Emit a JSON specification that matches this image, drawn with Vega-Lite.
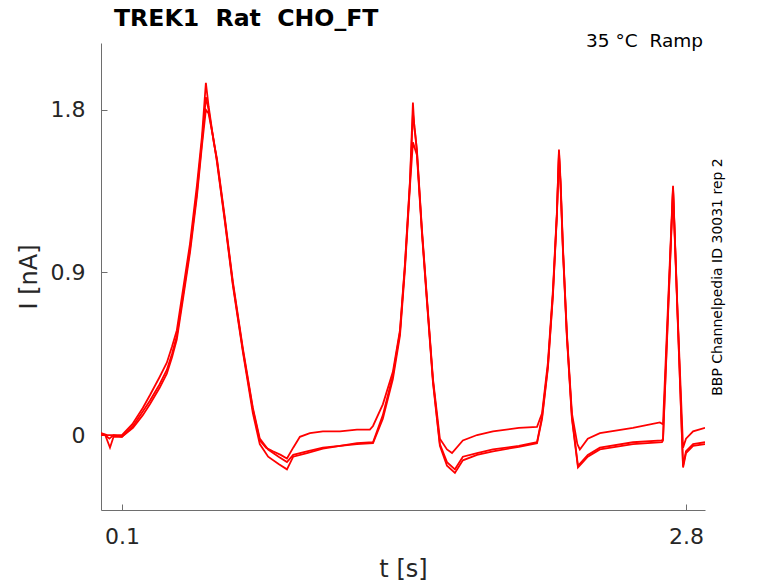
{
  "$schema": "https://vega.github.io/schema/vega-lite/v6.json",
  "width": 604,
  "height": 467,
  "autosize": {"type": "none"},
  "padding": {"left": 101, "top": 43, "right": 73, "bottom": 73},
  "title": {
    "text": "TREK1\u00a0\u00a0Rat\u00a0\u00a0CHO_FT",
    "anchor": "start",
    "frame": "group",
    "dx": 13,
    "offset": -18,
    "baseline": "alphabetic",
    "font": "DejaVu Sans",
    "fontSize": 23.6,
    "fontWeight": "bold",
    "color": "#000000"
  },
  "datasets": {
    "traces": [
      {"trace": "1", "t": 0.000, "I": 0.01}, {"trace": "1", "t": 0.020, "I": 0.00}, {"trace": "1", "t": 0.040, "I": -0.02},
      {"trace": "1", "t": 0.060, "I": 0.00}, {"trace": "1", "t": 0.100, "I": 0.00}, {"trace": "1", "t": 0.150, "I": 0.06},
      {"trace": "1", "t": 0.200, "I": 0.15}, {"trace": "1", "t": 0.234, "I": 0.22}, {"trace": "1", "t": 0.280, "I": 0.32},
      {"trace": "1", "t": 0.315, "I": 0.40}, {"trace": "1", "t": 0.340, "I": 0.49}, {"trace": "1", "t": 0.363, "I": 0.58},
      {"trace": "1", "t": 0.392, "I": 0.80}, {"trace": "1", "t": 0.426, "I": 1.06}, {"trace": "1", "t": 0.459, "I": 1.38},
      {"trace": "1", "t": 0.483, "I": 1.65}, {"trace": "1", "t": 0.502, "I": 1.95}, {"trace": "1", "t": 0.515, "I": 1.82},
      {"trace": "1", "t": 0.540, "I": 1.62}, {"trace": "1", "t": 0.555, "I": 1.52}, {"trace": "1", "t": 0.593, "I": 1.19},
      {"trace": "1", "t": 0.631, "I": 0.84}, {"trace": "1", "t": 0.679, "I": 0.47}, {"trace": "1", "t": 0.727, "I": 0.14},
      {"trace": "1", "t": 0.760, "I": -0.03}, {"trace": "1", "t": 0.790, "I": -0.07}, {"trace": "1", "t": 0.823, "I": -0.09},
      {"trace": "1", "t": 0.860, "I": -0.11}, {"trace": "1", "t": 0.890, "I": -0.13}, {"trace": "1", "t": 0.920, "I": -0.07},
      {"trace": "1", "t": 0.952, "I": -0.01}, {"trace": "1", "t": 1.000, "I": 0.01}, {"trace": "1", "t": 1.062, "I": 0.02},
      {"trace": "1", "t": 1.144, "I": 0.02}, {"trace": "1", "t": 1.225, "I": 0.03}, {"trace": "1", "t": 1.287, "I": 0.03},
      {"trace": "1", "t": 1.302, "I": 0.05}, {"trace": "1", "t": 1.349, "I": 0.17}, {"trace": "1", "t": 1.397, "I": 0.35},
      {"trace": "1", "t": 1.431, "I": 0.58}, {"trace": "1", "t": 1.455, "I": 0.95}, {"trace": "1", "t": 1.479, "I": 1.41},
      {"trace": "1", "t": 1.493, "I": 1.84}, {"trace": "1", "t": 1.500, "I": 1.70}, {"trace": "1", "t": 1.512, "I": 1.58},
      {"trace": "1", "t": 1.536, "I": 1.14}, {"trace": "1", "t": 1.560, "I": 0.76}, {"trace": "1", "t": 1.589, "I": 0.31},
      {"trace": "1", "t": 1.622, "I": -0.02}, {"trace": "1", "t": 1.656, "I": -0.08}, {"trace": "1", "t": 1.680, "I": -0.10},
      {"trace": "1", "t": 1.732, "I": -0.03}, {"trace": "1", "t": 1.800, "I": 0.00}, {"trace": "1", "t": 1.876, "I": 0.02},
      {"trace": "1", "t": 2.000, "I": 0.04}, {"trace": "1", "t": 2.087, "I": 0.045}, {"trace": "1", "t": 2.111, "I": 0.12},
      {"trace": "1", "t": 2.139, "I": 0.40}, {"trace": "1", "t": 2.163, "I": 0.80}, {"trace": "1", "t": 2.182, "I": 1.23},
      {"trace": "1", "t": 2.192, "I": 1.58}, {"trace": "1", "t": 2.200, "I": 1.40}, {"trace": "1", "t": 2.211, "I": 1.04},
      {"trace": "1", "t": 2.230, "I": 0.56}, {"trace": "1", "t": 2.254, "I": 0.12}, {"trace": "1", "t": 2.280, "I": -0.05},
      {"trace": "1", "t": 2.292, "I": -0.08}, {"trace": "1", "t": 2.330, "I": -0.02}, {"trace": "1", "t": 2.388, "I": 0.01},
      {"trace": "1", "t": 2.546, "I": 0.04}, {"trace": "1", "t": 2.675, "I": 0.07}, {"trace": "1", "t": 2.690, "I": 0.06},
      {"trace": "1", "t": 2.714, "I": 0.72}, {"trace": "1", "t": 2.738, "I": 1.38}, {"trace": "1", "t": 2.760, "I": 0.67},
      {"trace": "1", "t": 2.786, "I": -0.07}, {"trace": "1", "t": 2.800, "I": -0.02}, {"trace": "1", "t": 2.834, "I": 0.02},
      {"trace": "1", "t": 2.891, "I": 0.04},

      {"trace": "2", "t": 0.000, "I": 0.00}, {"trace": "2", "t": 0.020, "I": 0.00}, {"trace": "2", "t": 0.043, "I": -0.07},
      {"trace": "2", "t": 0.060, "I": -0.01}, {"trace": "2", "t": 0.100, "I": -0.01}, {"trace": "2", "t": 0.153, "I": 0.05},
      {"trace": "2", "t": 0.200, "I": 0.13}, {"trace": "2", "t": 0.234, "I": 0.19}, {"trace": "2", "t": 0.280, "I": 0.28},
      {"trace": "2", "t": 0.315, "I": 0.36}, {"trace": "2", "t": 0.340, "I": 0.45}, {"trace": "2", "t": 0.363, "I": 0.55},
      {"trace": "2", "t": 0.392, "I": 0.77}, {"trace": "2", "t": 0.426, "I": 1.03}, {"trace": "2", "t": 0.459, "I": 1.34},
      {"trace": "2", "t": 0.483, "I": 1.62}, {"trace": "2", "t": 0.502, "I": 1.87}, {"trace": "2", "t": 0.515, "I": 1.80},
      {"trace": "2", "t": 0.540, "I": 1.62}, {"trace": "2", "t": 0.555, "I": 1.53}, {"trace": "2", "t": 0.593, "I": 1.20},
      {"trace": "2", "t": 0.631, "I": 0.85}, {"trace": "2", "t": 0.679, "I": 0.48}, {"trace": "2", "t": 0.727, "I": 0.15},
      {"trace": "2", "t": 0.760, "I": -0.02}, {"trace": "2", "t": 0.800, "I": -0.08}, {"trace": "2", "t": 0.850, "I": -0.12},
      {"trace": "2", "t": 0.890, "I": -0.15}, {"trace": "2", "t": 0.920, "I": -0.11}, {"trace": "2", "t": 0.986, "I": -0.09},
      {"trace": "2", "t": 1.062, "I": -0.07}, {"trace": "2", "t": 1.144, "I": -0.06}, {"trace": "2", "t": 1.225, "I": -0.045},
      {"trace": "2", "t": 1.302, "I": -0.04}, {"trace": "2", "t": 1.349, "I": 0.11}, {"trace": "2", "t": 1.397, "I": 0.33},
      {"trace": "2", "t": 1.431, "I": 0.57}, {"trace": "2", "t": 1.455, "I": 0.94}, {"trace": "2", "t": 1.479, "I": 1.40},
      {"trace": "2", "t": 1.493, "I": 1.78}, {"trace": "2", "t": 1.505, "I": 1.66}, {"trace": "2", "t": 1.512, "I": 1.57},
      {"trace": "2", "t": 1.536, "I": 1.13}, {"trace": "2", "t": 1.560, "I": 0.75}, {"trace": "2", "t": 1.589, "I": 0.30},
      {"trace": "2", "t": 1.622, "I": -0.05}, {"trace": "2", "t": 1.656, "I": -0.15}, {"trace": "2", "t": 1.694, "I": -0.19},
      {"trace": "2", "t": 1.732, "I": -0.12}, {"trace": "2", "t": 1.800, "I": -0.10}, {"trace": "2", "t": 1.876, "I": -0.08},
      {"trace": "2", "t": 2.000, "I": -0.06}, {"trace": "2", "t": 2.087, "I": -0.04}, {"trace": "2", "t": 2.111, "I": 0.10},
      {"trace": "2", "t": 2.139, "I": 0.38}, {"trace": "2", "t": 2.163, "I": 0.78}, {"trace": "2", "t": 2.182, "I": 1.22},
      {"trace": "2", "t": 2.192, "I": 1.57}, {"trace": "2", "t": 2.200, "I": 1.38}, {"trace": "2", "t": 2.211, "I": 1.03},
      {"trace": "2", "t": 2.230, "I": 0.55}, {"trace": "2", "t": 2.254, "I": 0.10}, {"trace": "2", "t": 2.283, "I": -0.17},
      {"trace": "2", "t": 2.330, "I": -0.11}, {"trace": "2", "t": 2.388, "I": -0.07}, {"trace": "2", "t": 2.546, "I": -0.04},
      {"trace": "2", "t": 2.685, "I": -0.03}, {"trace": "2", "t": 2.690, "I": -0.02}, {"trace": "2", "t": 2.714, "I": 0.68},
      {"trace": "2", "t": 2.738, "I": 1.37}, {"trace": "2", "t": 2.760, "I": 0.66}, {"trace": "2", "t": 2.786, "I": -0.17},
      {"trace": "2", "t": 2.800, "I": -0.09}, {"trace": "2", "t": 2.834, "I": -0.05}, {"trace": "2", "t": 2.891, "I": -0.04},

      {"trace": "3", "t": 0.000, "I": 0.01}, {"trace": "3", "t": 0.030, "I": 0.00}, {"trace": "3", "t": 0.060, "I": 0.00},
      {"trace": "3", "t": 0.100, "I": -0.01}, {"trace": "3", "t": 0.153, "I": 0.04}, {"trace": "3", "t": 0.200, "I": 0.11},
      {"trace": "3", "t": 0.234, "I": 0.17}, {"trace": "3", "t": 0.280, "I": 0.26}, {"trace": "3", "t": 0.315, "I": 0.34},
      {"trace": "3", "t": 0.340, "I": 0.43}, {"trace": "3", "t": 0.363, "I": 0.53}, {"trace": "3", "t": 0.392, "I": 0.75},
      {"trace": "3", "t": 0.426, "I": 1.01}, {"trace": "3", "t": 0.459, "I": 1.32}, {"trace": "3", "t": 0.483, "I": 1.60},
      {"trace": "3", "t": 0.502, "I": 1.80}, {"trace": "3", "t": 0.515, "I": 1.78}, {"trace": "3", "t": 0.540, "I": 1.63},
      {"trace": "3", "t": 0.555, "I": 1.51}, {"trace": "3", "t": 0.593, "I": 1.18}, {"trace": "3", "t": 0.631, "I": 0.83},
      {"trace": "3", "t": 0.679, "I": 0.46}, {"trace": "3", "t": 0.727, "I": 0.12}, {"trace": "3", "t": 0.760, "I": -0.05},
      {"trace": "3", "t": 0.800, "I": -0.12}, {"trace": "3", "t": 0.850, "I": -0.16}, {"trace": "3", "t": 0.890, "I": -0.19},
      {"trace": "3", "t": 0.920, "I": -0.12}, {"trace": "3", "t": 0.986, "I": -0.10}, {"trace": "3", "t": 1.062, "I": -0.075},
      {"trace": "3", "t": 1.144, "I": -0.06}, {"trace": "3", "t": 1.225, "I": -0.05}, {"trace": "3", "t": 1.302, "I": -0.045},
      {"trace": "3", "t": 1.349, "I": 0.09}, {"trace": "3", "t": 1.397, "I": 0.31}, {"trace": "3", "t": 1.431, "I": 0.55},
      {"trace": "3", "t": 1.455, "I": 0.92}, {"trace": "3", "t": 1.479, "I": 1.38}, {"trace": "3", "t": 1.493, "I": 1.62},
      {"trace": "3", "t": 1.512, "I": 1.55}, {"trace": "3", "t": 1.536, "I": 1.12}, {"trace": "3", "t": 1.560, "I": 0.74},
      {"trace": "3", "t": 1.589, "I": 0.29}, {"trace": "3", "t": 1.622, "I": -0.06}, {"trace": "3", "t": 1.656, "I": -0.17},
      {"trace": "3", "t": 1.694, "I": -0.21}, {"trace": "3", "t": 1.732, "I": -0.14}, {"trace": "3", "t": 1.800, "I": -0.11},
      {"trace": "3", "t": 1.876, "I": -0.09}, {"trace": "3", "t": 2.000, "I": -0.065}, {"trace": "3", "t": 2.087, "I": -0.045},
      {"trace": "3", "t": 2.111, "I": 0.09}, {"trace": "3", "t": 2.139, "I": 0.37}, {"trace": "3", "t": 2.163, "I": 0.77},
      {"trace": "3", "t": 2.182, "I": 1.21}, {"trace": "3", "t": 2.192, "I": 1.55}, {"trace": "3", "t": 2.200, "I": 1.37},
      {"trace": "3", "t": 2.211, "I": 1.02}, {"trace": "3", "t": 2.230, "I": 0.54}, {"trace": "3", "t": 2.254, "I": 0.09},
      {"trace": "3", "t": 2.283, "I": -0.18}, {"trace": "3", "t": 2.330, "I": -0.12}, {"trace": "3", "t": 2.388, "I": -0.08},
      {"trace": "3", "t": 2.546, "I": -0.05}, {"trace": "3", "t": 2.685, "I": -0.04}, {"trace": "3", "t": 2.690, "I": -0.03},
      {"trace": "3", "t": 2.714, "I": 0.66}, {"trace": "3", "t": 2.738, "I": 1.36}, {"trace": "3", "t": 2.760, "I": 0.65},
      {"trace": "3", "t": 2.786, "I": -0.18}, {"trace": "3", "t": 2.800, "I": -0.10}, {"trace": "3", "t": 2.834, "I": -0.06},
      {"trace": "3", "t": 2.891, "I": -0.05}
    ]
  },
  "layer": [
    {
      "data": {"name": "traces"},
      "mark": {"type": "line", "color": "#ff0000", "strokeWidth": 1.8, "clip": true},
      "encoding": {
        "x": {
          "field": "t",
          "type": "quantitative",
          "scale": {"domain": [0, 2.891], "nice": false, "zero": false},
          "axis": {"values": [0.1, 2.8], "title": "t [s]", "format": ".1f"}
        },
        "y": {
          "field": "I",
          "type": "quantitative",
          "scale": {"domain": [-0.415, 2.17], "nice": false, "zero": false},
          "axis": {
            "values": [0, 0.9, 1.8],
            "title": "I [nA]",
            "labelExpr": "datum.value == 0 ? '0' : format(datum.value, '.1f')"
          }
        },
        "detail": {"field": "trace", "type": "nominal"}
      }
    },
    {
      "data": {"values": [{"label": "35 °C\u00a0\u00a0Ramp"}]},
      "mark": {
        "type": "text",
        "align": "right",
        "baseline": "alphabetic",
        "font": "DejaVu Sans",
        "fontSize": 18.5,
        "color": "#000000",
        "dx": -2,
        "dy": 4
      },
      "encoding": {
        "x": {
          "datum": 2.891,
          "type": "quantitative",
          "scale": {"domain": [0, 2.891], "nice": false, "zero": false},
          "axis": {"values": [0.1, 2.8], "title": "t [s]", "format": ".1f"}
        },
        "y": {"datum": 2.17, "type": "quantitative", "axis": null, "scale": {"domain": [-0.415, 2.17], "nice": false, "zero": false}},
        "text": {"field": "label"}
      }
    },
    {
      "data": {"values": [{"v": 0}]},
      "mark": {"type": "rule", "opacity": 0},
      "encoding": {
        "y": {
          "field": "v",
          "type": "quantitative",
          "scale": {"domain": [-0.415, 2.17], "nice": false, "zero": false},
          "axis": {
            "orient": "right",
            "title": "BBP Channelpedia ID 30031 rep 2",
            "labels": false,
            "ticks": false,
            "domain": false,
            "grid": false,
            "titleAngle": 270,
            "titleFontSize": 14,
            "titleFontWeight": "normal",
            "titleColor": "#000000",
            "titlePadding": 5,
            "titleBaseline": "top"
          }
        }
      }
    }
  ],
  "resolve": {"axis": {"y": "independent"}},
  "config": {
    "view": {"stroke": null},
    "font": "DejaVu Sans",
    "axis": {
      "grid": false,
      "domainColor": "#6e6e6e",
      "domainWidth": 1,
      "tickColor": "#6e6e6e",
      "tickSize": -6,
      "labelFont": "DejaVu Sans",
      "labelFontSize": 22,
      "labelColor": "#262626",
      "labelPadding": 22,
      "titleFont": "DejaVu Sans",
      "titleFontSize": 24,
      "titleFontWeight": "normal",
      "titleColor": "#262626"
    },
    "axisX": {"titlePadding": 10},
    "axisY": {"titlePadding": 9}
  }
}
